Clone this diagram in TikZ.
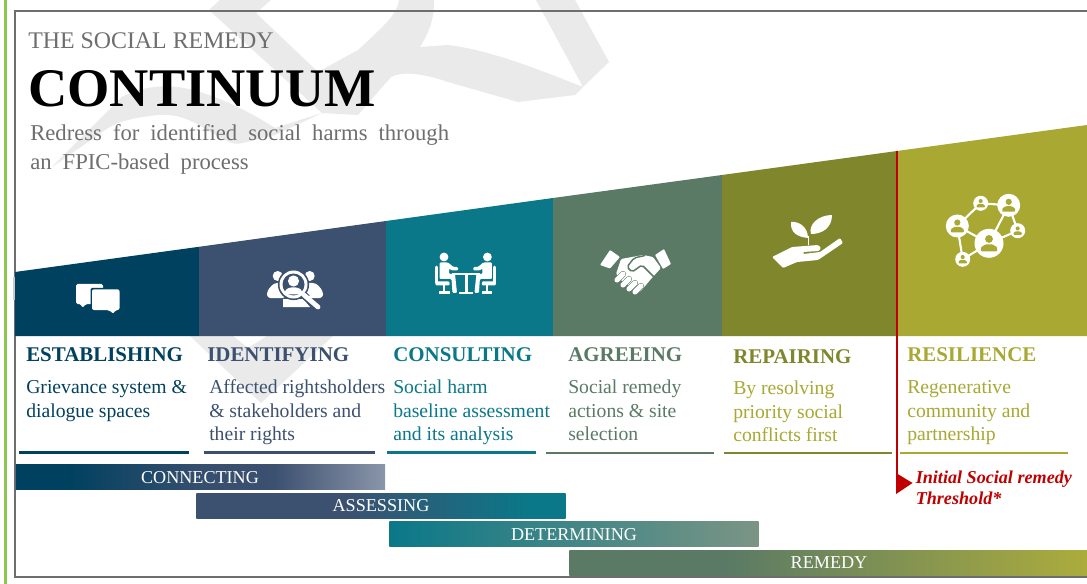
\documentclass[tikz,border=0pt]{standalone}
\usepackage{fontspec}
\setmainfont{Liberation Serif}
\definecolor{cA}{HTML}{00415F}
\definecolor{cB}{HTML}{3C5070}
\definecolor{cC}{HTML}{0A7888}
\definecolor{cD}{HTML}{5A7A66}
\definecolor{cE}{HTML}{7F862C}
\definecolor{cF}{HTML}{A8A832}
\definecolor{cRed}{HTML}{C00000}
\definecolor{cGrey}{HTML}{6E6E6E}
\definecolor{cWm}{HTML}{EAEAEA}
\definecolor{cGreen}{HTML}{8CC850}
\pgfdeclarehorizontalshading{barA}{100bp}{color(0bp)=(cA); color(25bp)=(cA); color(32bp)=(cA); color(50bp)=(cB!90!cA); color(60bp)=(cB); color(75bp)=(cB!60!white); color(100bp)=(cB!60!white)}
\pgfdeclarehorizontalshading{barB}{100bp}{color(0bp)=(cB); color(25bp)=(cB); color(45bp)=(cB); color(70bp)=(cC); color(75bp)=(cC); color(100bp)=(cC)}
\pgfdeclarehorizontalshading{barC}{100bp}{color(0bp)=(cC); color(25bp)=(cC); color(75bp)=(cD!80!white); color(100bp)=(cD!80!white)}
\pgfdeclarehorizontalshading{barD}{100bp}{color(0bp)=(cD); color(25bp)=(cD); color(40bp)=(cD); color(75bp)=(cF!95!white); color(100bp)=(cF!95!white)}
\newcommand\lead{\rule{0pt}{12pt}}
\newcommand\netperson[3]{\begin{scope}[shift={(#1,#2)},scale=#3]
\fill[cF] (0,-.30) circle (.27);
\fill[cF,rounded corners=.6pt] (-.56,.55) -- (-.56,.28) -- (-.25,.08) -- (.25,.08) -- (.56,.28) -- (.56,.55) -- cycle;
\end{scope}}
\tikzset{
  head/.style={anchor=base west,inner sep=0,font=\fontsize{15.7pt}{18pt}\selectfont\bfseries},
  body/.style={anchor=north west,inner sep=0,align=left,font=\fontsize{14.75pt}{17.8pt}\selectfont},
  barlabel/.style={inner sep=0,text=white,font=\fontsize{13.6pt}{16pt}\selectfont},
  baredge/.style={inner sep=0,minimum height=18.75pt,shade},
  rulec/.style={line width=1.6pt},
  wm/.style={fill=cWm,draw=none},
  ico/.style={fill=white,draw=none}
}
\begin{document}
\begin{tikzpicture}[x=.75pt,y=-.75pt]
\useasboundingbox (0,0) rectangle (1087,584);
\fill[white] (0,0) rectangle (1087,584);
% watermark
\fill[wm] (220,0) -- (209,10) -- (322,113) -- (275,135) .. controls (250,140) and (240,146) .. (232,143)
  .. controls (210,135) and (190,112) .. (158,115) .. controls (130,118) and (115,122) .. (101,133) -- (52,167) -- (122,97)
  .. controls (150,82) and (180,85) .. (203,93) .. controls (225,100) and (250,112) .. (275,128) -- (322,113) -- (358,115) -- (391,77)
  .. controls (400,72) and (420,72) .. (448,82) -- (518,102) -- (575,95) -- (583,87) -- (536,0) -- (575,0) -- (609,62) -- (583,87)
  .. controls (540,70) and (490,50) .. (448,45) -- (420,47) .. controls (430,30) and (434,20) .. (434,0) -- (399,0)
  .. controls (397,12) and (393,18) .. (358,50) -- (318,72) -- (256,13) -- (271,0) -- cycle;
\fill[wm] (190,336) -- (261,403) -- (333,336) -- (267,336) -- (248,348) -- (233,336) -- cycle;
% frame
\draw[cGrey,line width=.9pt] (1087,11) -- (15,11) -- (15,577) -- (1087,577);
\fill[cWm!70!gray] (13,277) rectangle (15,300);
\fill[cGreen] (4,0) rectangle (6.6,584);
% band
\fill[cA] (15,272) -- (199,246.8) -- (199,336) -- (15,336) -- cycle;
\fill[cB] (199,246.8) -- (386,221) -- (386,336) -- (199,336) -- cycle;
\fill[cC] (386,221) -- (553,198) -- (553,336) -- (386,336) -- cycle;
\fill[cD] (553,198) -- (722,175) -- (722,336) -- (553,336) -- cycle;
\fill[cE] (722,175) -- (897,151) -- (897,336) -- (722,336) -- cycle;
\fill[cF] (897,151) -- (1087,125) -- (1087,336) -- (897,336) -- cycle;
% title
\node[anchor=base west,inner sep=0,text=cGrey,font=\fontsize{17.9pt}{20pt}\selectfont] (kicker) at (28,49) {THE SOCIAL REMEDY};
\node[anchor=base west,inner sep=0,font=\fontsize{40.8pt}{44pt}\selectfont\bfseries] (main) at (28,107) {CONTINUUM};
\node[anchor=base west,inner sep=0,text=cGrey,font=\fontsize{17pt}{20pt}\selectfont] (subA) at (30,141) {\spaceskip=8.25pt Redress for identified social harms through};
\node[anchor=base west,inner sep=0,text=cGrey,font=\fontsize{17pt}{20pt}\selectfont] (subB) at (30,170) {\spaceskip=8.25pt an FPIC-based process};
% icon 1 speech
\fill[ico,rounded corners=1.2pt] (76,284) -- (103,284) -- (103,304) -- (86,304) -- (82,308) -- (81,304) -- (76,304) -- cycle;
\fill[cA,rounded corners=1.2pt] (90.5,287.8) rectangle (120.5,311.5);
\fill[ico,rounded corners=1.5pt] (92,289.3) -- (119.5,289.3) -- (119.5,310) -- (115,310) -- (113.5,314) -- (109,310) -- (92,310) -- cycle;
% icon 2 search
\fill[ico] (277.7,276) circle (5); \fill[ico] (309.7,276) circle (5);
\fill[ico,rounded corners=2.5pt] (267,298) -- (267,291) -- (274,283) -- (283,283) -- (286,298) -- cycle;
\fill[ico,rounded corners=2.5pt] (323,298) -- (323,291) -- (316,283) -- (305,283) -- (302,298) -- cycle;
\fill[ico] (283,307) -- (283,299) -- (303,299) -- (310,307) -- cycle;
\fill[cB] (293.5,284.5) circle (15.6);
\fill[ico] (293.5,284.5) circle (14);
\fill[cB] (293.5,284.5) circle (11);
\fill[ico] (293.5,281) circle (5.6);
\fill[ico,rounded corners=2pt] (284.5,294.5) -- (284.5,291) -- (288.5,287.5) -- (298.5,287.5) -- (302.5,291) -- (302.5,294.5) -- cycle;
\draw[cB,line width=5.4pt] (304,295) -- (307,298);
\draw[white,line width=3.6pt,line cap=round] (304,295) -- (318,307);
% icon 3 meeting
\foreach \s/\c in {1/444,-1/487.4}{
\begin{scope}[shift={(\c,0)},xscale=\s]
\fill[ico] (0,257) circle (4.4);
\fill[ico,rounded corners=.8pt] (-4.5,262.5) -- (4,262.5) -- (9.5,267) -- (14,267) -- (14,270.5) -- (8,270.5) -- (5,268.5) -- (5,274) -- (11,274) -- (13,293) -- (8.5,293) -- (7.5,279) -- (-4.5,279) -- cycle;
\draw[white,line width=2pt,line cap=round] (-7.3,267) -- (-7.3,283);
\fill[ico,rounded corners=.8pt] (-8.4,281.5) rectangle (5.5,285.5);
\fill[ico] (-.9,285) rectangle (1.3,292);
\fill[ico] (-5,291.5) rectangle (5.5,294.5);
\end{scope}}
\fill[ico] (452,272.8) rectangle (479.5,275.3);
\fill[ico] (464.5,275) rectangle (467.5,292);
\fill[ico] (459,292) rectangle (473,294.5);
% icon 4 handshake
\fill[ico,rounded corners=.6pt] (600,265) -- (610,250) -- (620,257) -- (610,268.5) -- cycle;
\fill[ico,rounded corners=.6pt] (655,255) -- (664,249) -- (671,264) -- (663,269) -- cycle;
\fill[ico,rounded corners=1pt] (621,259) -- (632,257) -- (643,255) -- (653,257) -- (661,268) -- (651,279) -- (640,292) -- (636,291) -- (622,281) -- (616,274) -- cycle;
\draw[cD,line width=1.1pt,rounded corners=1.5pt] (645,255.5) -- (634,258) -- (627,267) -- (632,272) -- (642,265) -- (656,279);
\foreach \xa/\ya in {620/277,626/282,632/286,638/289}{
 \draw[cD,line width=4.6pt,line cap=round] (\xa-3,\ya+3) -- (\xa+3,\ya-3);
 \draw[white,line width=3.8pt,line cap=round] (\xa-3,\ya+3) -- (\xa+3,\ya-3);
}
% icon 5 plant
\fill[ico,rounded corners=.8pt] (772,257) -- (792,247) -- (818,245) -- (821,248) -- (819,251) -- (803,252) -- (803,254) -- (820,252) -- (840,238) -- (843,243) -- (818,260) -- (797,262) -- (783,268) -- cycle;
\fill[ico] (791,222) .. controls (800,221) and (808,228) .. (808,238) .. controls (798,237) and (790,233) .. (791,222) -- cycle;
\fill[ico] (832,215) .. controls (818,215) and (808,225) .. (811,234) .. controls (822,234) and (832,228) .. (832,215) -- cycle;
\draw[white,line width=1.4pt] (808.5,236) -- (808.5,245);
% icon 6 network
\draw[white,line width=1.6pt] (957.3,226) -- (980.7,203.3) -- (1008.7,205.3) -- (989,243.3) -- (957.3,226) -- (962.7,259.3) -- (989,243.3) -- (1017.7,230.7) -- (1008.7,205.3);
\foreach \xc/\yc/\rc in {957.3/226/11.5,980.7/203.3/7.5,1008.7/205.3/11.5,1017.7/230.7/7.5,989/243.3/14.5,962.7/259.3/7.5}{
 \fill[ico] (\xc,\yc) circle (\rc);
 \netperson{\xc}{\yc}{\rc}
}
% headings
\node[head,text=cA] (h1) at (26,361) {ESTABLISHING};
\node[head,text=cB] (h2) at (207,361) {IDENTIFYING};
\node[head,text=cC] (h3) at (393,361) {CONSULTING};
\node[head,text=cD] (h4) at (568,361) {AGREEING};
\node[head,text=cE] (h5) at (733,363) {REPAIRING};
\node[head,text=cF] (h6) at (907,361) {RESILIENCE};
% bodies
\node[body,text=cA] (b1) at (26,377) {\lead Grievance system \&\\dialogue spaces};
\node[body,text=cB] (b2) at (209,377) {\lead Affected rightsholders\\\& stakeholders and\\their rights};
\node[body,text=cC] (b3) at (393,377) {\lead Social harm\\baseline assessment\\and its analysis};
\node[body,text=cD] (b4) at (568,377) {\lead Social remedy\\actions \& site\\selection};
\node[body,text=cF] (b5) at (733,378) {\lead By resolving\\priority social\\conflicts first};
\node[body,text=cF] (b6) at (907,377) {\lead Regenerative\\community and\\partnership};
% rules
\coordinate (r1a) at (19,452.5); \coordinate (r1b) at (189,452.5);
\coordinate (r2a) at (204,452.5); \coordinate (r2b) at (375,452.5);
\coordinate (r3a) at (387,452.5); \coordinate (r3b) at (536,452.5);
\coordinate (r4a) at (546,453); \coordinate (r4b) at (714,453);
\coordinate (r5a) at (724,453); \coordinate (r5b) at (892,453);
\coordinate (r6a) at (900,453); \coordinate (r6b) at (1068,453);
\draw[rulec,cA] (r1a) -- (r1b);
\draw[rulec,cB] (r2a) -- (r2b);
\draw[rulec,cC] (r3a) -- (r3b);
\draw[rulec,cD] (r4a) -- (r4b);
\draw[rulec,cE] (r5a) -- (r5b);
\draw[rulec,cF] (r6a) -- (r6b);
% bars
\node[baredge,anchor=north west,shading=barA,minimum width=277pt] (s1) at (15.5,464) {};
\node[barlabel] (l1) at (200,477.5) {CONNECTING};
\node[baredge,anchor=north west,shading=barB,minimum width=277pt] (s2) at (196,493) {};
\node[barlabel] (l2) at (381,506) {ASSESSING};
\node[baredge,anchor=north west,shading=barC,minimum width=277pt] (s3) at (389,521.5) {};
\node[barlabel] (l3) at (574,534.5) {DETERMINING};
\node[baredge,anchor=north west,shading=barD,minimum width=388.5pt] (s4) at (569,550) {};
\node[barlabel] (l4) at (829,563) {REMEDY};
% threshold
\coordinate (t1) at (897,151); \coordinate (t2) at (897,485);
\draw[cRed,line width=1.6pt] (t1) -- (t2);
\fill[cRed] (896,473) -- (912.5,483) -- (896,494) -- cycle;
\node[anchor=north west,inner sep=0,align=left,text=cRed,font=\fontsize{13.6pt}{15.9pt}\selectfont\bfseries\itshape] (th) at (915.5,467) {\lead Initial Social remedy\\Threshold*};
\end{tikzpicture}
\end{document}
